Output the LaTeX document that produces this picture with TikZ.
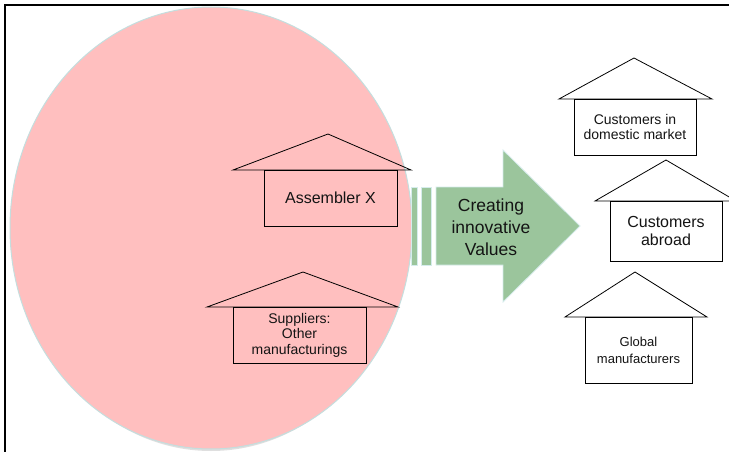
\documentclass[tikz,border=0pt]{standalone}
\usepackage{fontspec}
\setmainfont{Liberation Sans}
\definecolor{pinkfill}{RGB}{255,191,191}
\definecolor{ellline}{RGB}{196,222,222}
\definecolor{arrowfill}{RGB}{155,197,156}
\definecolor{arrowline}{RGB}{214,236,236}
\definecolor{txt}{RGB}{20,20,20}
\begin{document}
\begin{tikzpicture}[x=1pt,y=-1pt,
  housebox/.style={draw=black, line width=0.8pt, inner sep=0pt, align=center, text=txt},
  roof/.style={draw=black, line width=0.8pt, line join=miter},
  arrowpart/.style={fill=arrowfill, draw=arrowline, line width=0.8pt}]
\useasboundingbox (0,0) rectangle (729,452);
\fill[white] (0,0) rectangle (729,452);
% frame
\draw[line width=1.6pt] (5,470) -- (5,5) -- (750,5);
% ellipse
\fill[gray!25] (211,230) ellipse [x radius=195, y radius=221];
\draw[fill=pinkfill, draw=ellline, line width=1pt] (211,228) ellipse [x radius=201, y radius=221];
% Assembler X house
\draw[roof] (233,170) -- (328,134) -- (411,170) -- cycle;
\node[housebox, minimum width=133pt, minimum height=56pt, font=\fontsize{16}{18}\selectfont] (asm) at (330.5,198) {Assembler X};
% Suppliers house
\draw[roof] (207,307) -- (303,272) -- (398,307) -- cycle;
\node[housebox, minimum width=133pt, minimum height=56pt, font=\fontsize{14}{15.5}\selectfont] (sup) at (299.5,335) {Suppliers:\\Other\\manufacturings};
% arrow
\path[arrowpart] (411,187) rectangle (417,265);
\path[arrowpart] (421,187) rectangle (431,265);
\path[arrowpart] (436,187) -- (503,187) -- (503,150) -- (580,226) -- (503,302) -- (503,265) -- (436,265) -- cycle;
\node[align=center, text=txt, font=\fontsize{17.5}{22}\selectfont] (cv) at (491,227) {Creating\\innovative\\Values};
% Customers in domestic market
\draw[roof] (559,99) -- (634,58) -- (712,99) -- cycle;
\node[housebox, minimum width=122pt, minimum height=56pt, font=\fontsize{14}{15}\selectfont] (dom) at (635,127) {Customers in\\domestic market};
% Customers abroad
\draw[roof] (595,201) -- (666,160) -- (736,201) -- cycle;
\node[housebox, minimum width=112pt, minimum height=60pt, font=\fontsize{16}{17.5}\selectfont] (abr) at (666,231) {Customers\\abroad};
% Global manufacturers
\draw[roof] (565,317) -- (635,272) -- (707,317) -- cycle;
\node[housebox, minimum width=107pt, minimum height=66pt, font=\fontsize{13}{17}\selectfont] (glo) at (638.5,350) {Global\\manufacturers};
\end{tikzpicture}
\end{document}
